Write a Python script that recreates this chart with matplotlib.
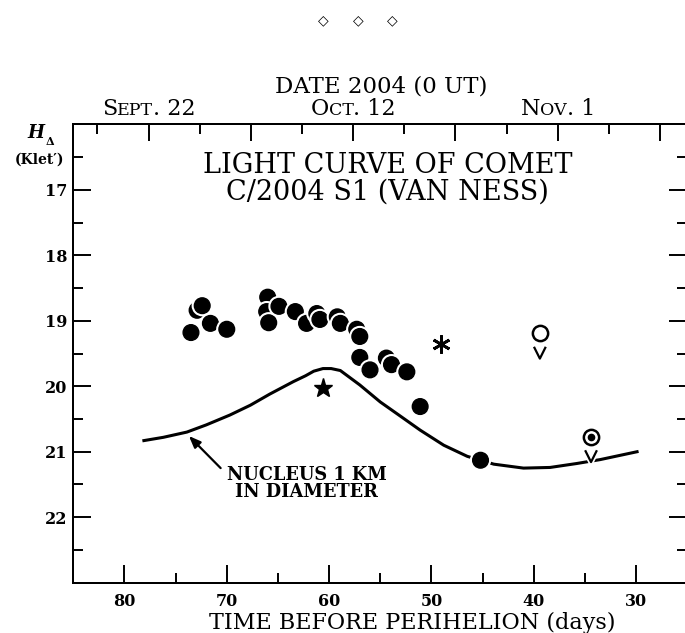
"""
Light curve of comet C/2004 S1 (Van Ness) -- H_delta vs time before perihelion.
"""

import numpy as np
import matplotlib
matplotlib.use('Agg')
import matplotlib.pyplot as plt
import matplotlib.patheffects as pe
from matplotlib.path import Path
from matplotlib.transforms import ScaledTranslation
from matplotlib.offsetbox import TextArea, HPacker, AnnotationBbox

plt.rcParams.update({
    'font.family':      'DejaVu Serif',
    'mathtext.fontset': 'dejavuserif',
    'axes.linewidth':   1.4,
})

# ── data ────────────────────────────────────────────────────────────────
# Kletť CCD magnitudes (filled circles)
T_KLET = [73.5, 72.9, 72.4, 71.6, 70.0, 66.0, 66.1, 65.9, 64.9, 63.3, 62.2,
          61.2, 60.9, 59.2, 58.9, 57.3, 57.0, 57.0, 56.0, 54.4, 53.9, 52.4,
          51.1, 45.2]
H_KLET = [19.18, 18.84, 18.77, 19.04, 19.13, 18.64, 18.86, 19.03, 18.78,
          18.86, 19.04, 18.89, 18.98, 18.94, 19.04, 19.13, 19.24, 19.56,
          19.75, 19.57, 19.67, 19.78, 20.31, 21.13]

T_STAR, H_STAR = [60.6], [20.03]          # five-pointed star
T_ASTER, H_ASTER = [49.1], [19.35]        # asterisk
T_OPEN, H_OPEN = [39.4], [19.19]          # open circle, limit
T_DOT, H_DOT = [34.4], [20.77]            # circled dot, limit

# model: nucleus 1 km in diameter
T_NUC = [78.1, 76.2, 73.9, 72.0, 69.7, 67.7, 65.8, 63.5, 62.3, 61.5, 60.6,
         59.8, 58.9, 57.0, 55.0, 53.0, 51.1, 48.8, 46.5, 43.9, 41.0, 38.4,
         35.8, 33.5, 29.9]
H_NUC = [20.83, 20.78, 20.70, 20.59, 20.44, 20.29, 20.12, 19.93, 19.84,
         19.77, 19.73, 19.73, 19.76, 19.98, 20.24, 20.46, 20.67, 20.90,
         21.07, 21.19, 21.25, 21.24, 21.18, 21.12, 21.00]

X_MAJOR = [80, 70, 60, 50, 40, 30]
X_MINOR = [75, 65, 55, 45, 35]
Y_MAJOR = [17, 18, 19, 20, 21, 22]
Y_MINOR = [16.5, 17.5, 18.5, 19.5, 20.5, 21.5, 22.5]

SEPT22_T = 77.65                                     # days before perihelion at Sept. 22.0
DATE_MAJOR = [0, 10, 20, 30, 40, 50]                 # days after Sept. 22
DATE_MINOR = [-5, 5, 15, 25, 35, 45]
DATE_LABELS = {0: ('S', 'EPT', '. 22'), 20: ('O', 'CT', '. 12'), 40: ('N', 'OV', '. 1')}

W, H = 685, 633


def fxy(x, y):
    return x / W, 1 - y / H


fig = plt.figure(figsize=(W / 100, H / 100), dpi=100)
ax = fig.add_axes([73.3 / W, (H - 582.7) / H, 613.9 / W, 458.4 / H])

halo = [pe.withStroke(linewidth=4, foreground='white')]

ax.plot(T_NUC, H_NUC, color='black', lw=2.2, zorder=2)
ax.plot(T_KLET, H_KLET, 'o', ms=11.3, color='black', ls='none',
        path_effects=halo, zorder=3)
ax.plot(T_STAR, H_STAR, marker='*', ms=14, color='black', ls='none', zorder=3)
ax.plot(T_ASTER, H_ASTER, marker=(6, 2, 0), ms=13, mew=2.0, color='black',
        ls='none', zorder=3)
ax.plot(T_OPEN, H_OPEN, 'o', ms=11, mfc='white', mec='black', mew=1.8,
        ls='none', zorder=3)
ax.plot(T_DOT, H_DOT, 'o', ms=11, mfc='white', mec='black', mew=1.8,
        ls='none', zorder=3)
ax.plot(T_DOT, H_DOT, 'o', ms=4.5, color='black', ls='none', zorder=4)

# "fainter than" marks below the two limit points
v_path = Path([(-1, 1), (0, -1), (1, 1)], [Path.MOVETO, Path.LINETO, Path.LINETO])
below = ax.transData + ScaledTranslation(0, -0.195, fig.dpi_scale_trans)
ax.plot(T_OPEN + T_DOT, H_OPEN + H_DOT, marker=v_path, ms=8.5, mew=1.6,
        mfc='none', mec='black', ls='none', transform=below,
        path_effects=halo, zorder=4)

# annotation for the model curve
ax.annotate('', xy=(73.7, 20.76), xytext=(70.6, 21.25),
            arrowprops=dict(arrowstyle='-|>,head_length=0.7,head_width=0.28',
                            color='black', lw=1.6, shrinkA=0, shrinkB=0))
ax.text(62.2, 21.43, 'NUCLEUS 1 KM', ha='center', va='baseline',
        fontsize=12.8, fontweight='bold')
ax.text(62.2, 21.69, 'IN DIAMETER', ha='center', va='baseline',
        fontsize=12.8, fontweight='bold')

# axes
ax.set_xlim(85, 25)
ax.set_ylim(23, 16)
ax.set_xticks(X_MAJOR)
ax.set_xticks(X_MINOR, minor=True)
ax.set_yticks(Y_MAJOR)
ax.set_yticks(Y_MINOR, minor=True)
ax.tick_params(which='both', direction='in', top=False, right=True,
               width=1.4, labelsize=11.5)
ax.tick_params(which='major', length=13)
ax.tick_params(which='minor', length=7.5)
ax.tick_params(axis='x', pad=7.5)
ax.tick_params(axis='y', pad=4.5)
for lab in ax.get_xticklabels() + ax.get_yticklabels():
    lab.set_fontweight('bold')

# top date axis
ax_top = ax.twiny()
ax_top.set_xlim(ax.get_xlim())
ax_top.set_xticks([SEPT22_T - d for d in DATE_MAJOR])
ax_top.set_xticks([SEPT22_T - d for d in DATE_MINOR], minor=True)
ax_top.tick_params(which='both', direction='in', width=1.4, labeltop=False)
ax_top.tick_params(which='major', length=12.5)
ax_top.tick_params(which='minor', length=7.2)

for d, (cap, small, rest) in DATE_LABELS.items():
    parts = [TextArea(cap, textprops=dict(fontsize=16)),
             TextArea(small, textprops=dict(fontsize=12.5)),
             TextArea(rest, textprops=dict(fontsize=16))]
    box = HPacker(children=parts, align='baseline', pad=0, sep=0)
    ab = AnnotationBbox(box, (SEPT22_T - d, 1), xycoords=ax.get_xaxis_transform(),
                        box_alignment=(0.5, 0), xybox=(0, 3),
                        boxcoords='offset points', frameon=False,
                        annotation_clip=False)
    ax_top.add_artist(ab)

# texts
fig.text(*fxy(381, 92), 'DATE 2004 (0 UT)', ha='center', va='baseline', fontsize=16.5)
fig.text(*fxy(387.5, 173), 'LIGHT CURVE OF COMET', ha='center', va='baseline', fontsize=19.5)
fig.text(*fxy(387.5, 200), 'C/2004 S1 (VAN NESS)', ha='center', va='baseline', fontsize=19.5)
fig.text(*fxy(412, 629), 'TIME BEFORE PERIHELION (days)', ha='center', va='baseline', fontsize=16)

fig.text(*fxy(36, 138), 'H', ha='center', va='baseline', fontsize=13,
         fontweight='bold', style='italic')
fig.text(*fxy(50, 145), 'Δ', ha='center', va='baseline', fontsize=8, fontweight='bold')
fig.text(*fxy(39, 164), '(Klet′)', ha='center', va='baseline', fontsize=10,
         fontweight='bold')

for x in (323, 358, 392):
    fig.text(*fxy(x, 20), '◇', ha='center', va='center', fontsize=10,
             family='DejaVu Sans')

fig.savefig('out.png', dpi=100)
